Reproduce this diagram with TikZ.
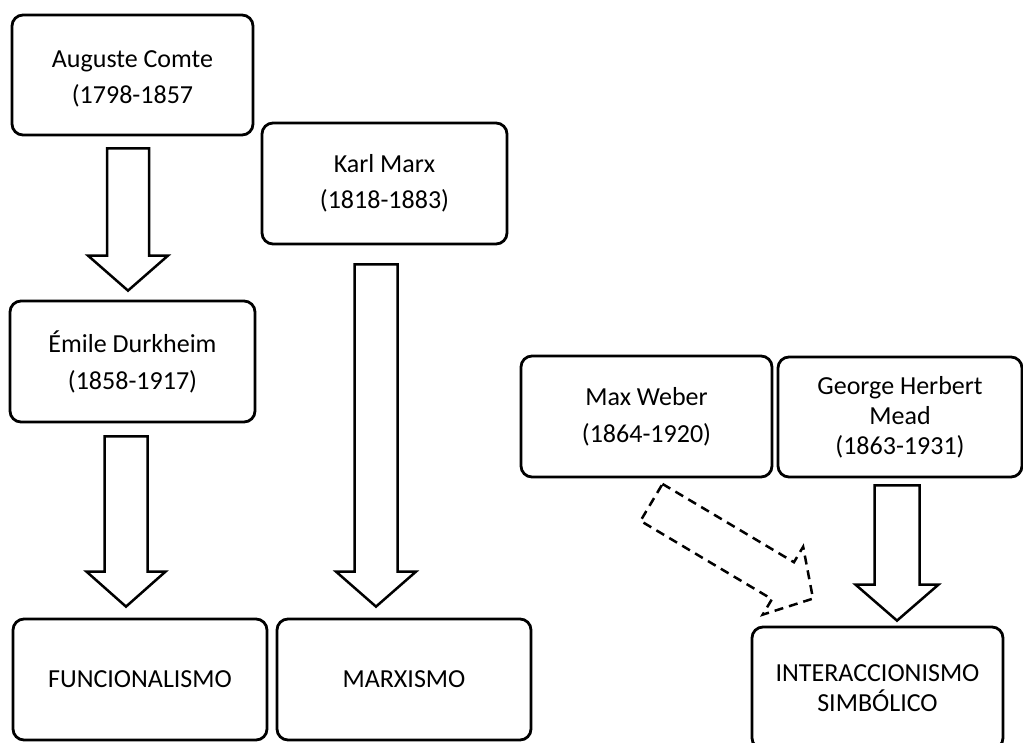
\documentclass[tikz,border=0pt]{standalone}
\usepackage{fontspec}
\setmainfont{Carlito}
\usetikzlibrary{calc}

% Block arrow from #2 (tail centre) to #3 (tip):
% #4 shaft half width, #5 head half width, #6 head length, #1 style
\newcommand\widearrow[6][fat]{%
  \coordinate (wa-s) at ($(#3)!#6!(#2)$);
  \draw[#1] ($(#2)!#4!90:(#3)$) -- ($(wa-s)!#4!90:(#3)$) -- ($(wa-s)!#5!90:(#3)$)
    -- (#3) -- ($(wa-s)!#5!-90:(#3)$) -- ($(wa-s)!#4!-90:(#3)$)
    -- ($(#2)!#4!-90:(#3)$) -- cycle;
}

\begin{document}
\begin{tikzpicture}[x=1pt,y=-1pt,
  box/.style={draw=black, line width=2.8pt, rounded corners=11pt, inner sep=0pt,
    align=center, font=\fontsize{26}{36}\selectfont},
  wide/.style={font=\fontsize{26}{37}\selectfont},
  tight/.style={font=\fontsize{26}{30}\selectfont},
  fat/.style={draw=black, fill=white, line width=2.5pt, line join=miter},
  fatdash/.style={fat, dash pattern=on 9pt off 6pt}]

\clip (0,0) rectangle (1023,742);
\fill[white] (0,0) rectangle (1023,742);

% founders
\node[box, minimum width=241pt, minimum height=120pt] (comte) at (132.5,75)
  {\rule{0pt}{25pt}Auguste Comte\\(1798-1857};
\node[box, minimum width=245pt, minimum height=121pt] (marx) at (384.5,183.5)
  {Karl Marx\\(1818-1883)};
\node[box, wide, minimum width=245pt, minimum height=121pt] (durk) at (132.5,361.5)
  {Émile Durkheim\\(1858-1917)};
\node[box, wide, minimum width=251pt, minimum height=121pt] (weber) at (646.5,416.5)
  {Max Weber\\(1864-1920)};
\node[box, tight, minimum width=244pt, minimum height=120pt] (mead) at (900,417)
  {George Herbert\\Mead\\(1863-1931)};

% schools
\node[box, minimum width=254pt, minimum height=121pt] (func) at (140,679.5)
  {FUNCIONALISMO};
\node[box, minimum width=254pt, minimum height=121pt] (marxismo) at (404,679.5)
  {MARXISMO};
\node[box, tight, minimum width=251pt, minimum height=122pt] (inter) at (877.5,688)
  {INTERACCIONISMO\\SIMBÓLICO};

% arrow ends
\coordinate (t1) at ([xshift=-4.5pt,yshift=-12pt]comte.south);
\coordinate (h1) at ([xshift=-4.5pt,yshift=9pt]durk.north);
\coordinate (t2) at ([xshift=-6.5pt,yshift=-13pt]durk.south);
\coordinate (h2) at ([xshift=-14pt,yshift=11pt]func.north);
\coordinate (t3) at ([xshift=-8.5pt,yshift=-19pt]marx.south);
\coordinate (h3) at ([xshift=-28pt,yshift=11pt]marxismo.north);
\coordinate (t4) at ([xshift=-3pt,yshift=-7pt]mead.south);
\coordinate (h4) at ([xshift=19.5pt,yshift=5pt]inter.north);
\coordinate (t5) at ([xshift=5pt,yshift=-24pt]weber.south);
\coordinate (h5) at ([xshift=-64.5pt,yshift=27pt]inter.north);

% influences
\widearrow{t1}{h1}{21pt}{40pt}{35pt}
\widearrow{t2}{h2}{21.5pt}{39.5pt}{35pt}
\widearrow{t3}{h3}{21.5pt}{40pt}{35pt}
\widearrow{t4}{h4}{22.5pt}{41.5pt}{36pt}
\widearrow[fatdash]{t5}{h5}{21.5pt}{39.5pt}{35pt}

\end{tikzpicture}
\end{document}
